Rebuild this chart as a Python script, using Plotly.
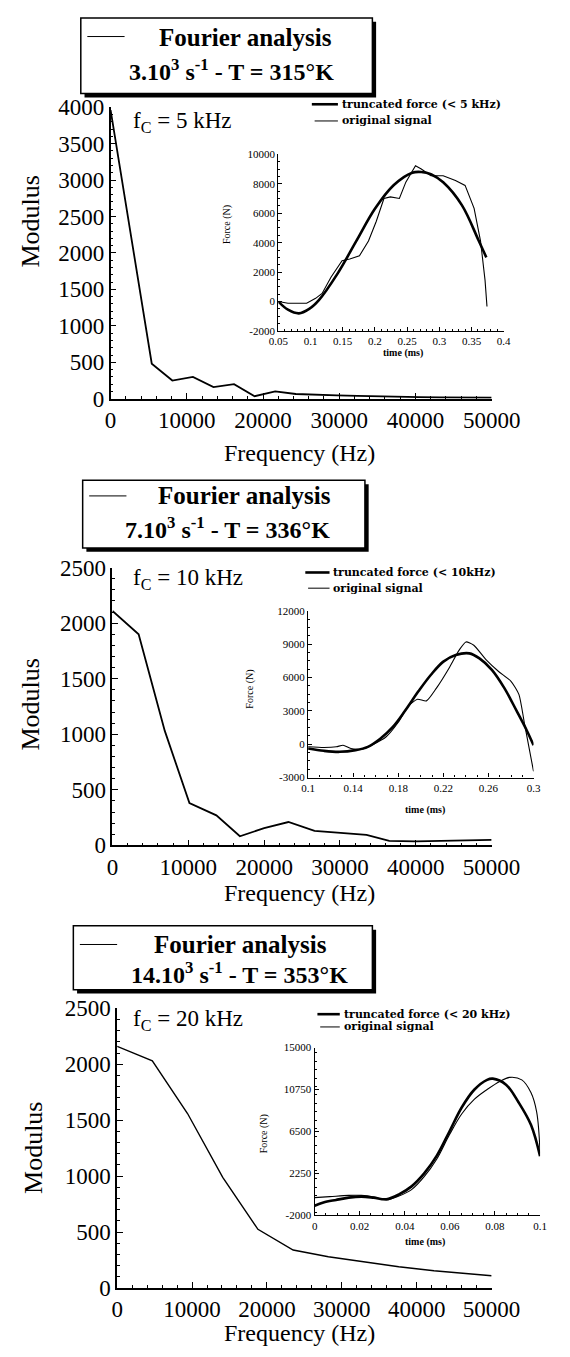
import plotly.graph_objects as go

W, H = 570, 1357

# ---------------- data ----------------
# Panel 1 (3.10^3 s-1, T=315 K)
freq1 = [0, 2700, 5400, 8100, 10800, 13500, 16200, 18900, 21600, 24300, 27000, 29700,
         32400, 35100, 37800, 40500, 43200, 45900, 48600, 50000]
mod1 = [3960, 2200, 480, 250, 300, 160, 200, 35, 100, 65, 50, 45, 40, 32, 27, 23, 20, 18, 16, 15]
t1_trunc = [0.05, 0.065, 0.082, 0.098, 0.113, 0.142, 0.171, 0.2, 0.229, 0.258, 0.272, 0.287,
            0.306, 0.335, 0.361, 0.373]
f1_trunc = [0, -550, -800, -500, 100, 1900, 4100, 6300, 7900, 8750, 8800, 8650,
            8100, 6550, 4150, 3000]
t1_orig = [0.05, 0.065, 0.094, 0.108, 0.118, 0.132, 0.149, 0.161, 0.176, 0.19, 0.202, 0.214,
           0.224, 0.238, 0.248, 0.263, 0.272, 0.287, 0.306, 0.325, 0.34, 0.354, 0.364,
           0.371, 0.374]
f1_orig = [0, -110, -110, 220, 550, 1670, 2780, 2890, 3110, 4110, 5440, 7000,
           7110, 7000, 8110, 9220, 9000, 8550, 8550, 8220, 7890, 6330, 4110,
           1440, -330]

# Panel 2 (7.10^3 s-1, T=336 K)
freq2 = [0, 3450, 6900, 10150, 13700, 16800, 20000, 23200, 26650, 30100, 33500, 36500,
         40000, 43300, 46900, 50000]
mod2 = [2110, 1900, 1030, 380, 270, 82, 155, 210, 130, 115, 95, 40, 35, 40, 45, 50]
t2_trunc = [0.1, 0.114, 0.128, 0.142, 0.153, 0.164, 0.175, 0.186, 0.198, 0.209, 0.22,
            0.231, 0.243, 0.252, 0.263, 0.274, 0.285, 0.294, 0.3]
f2_trunc = [-380, -590, -680, -530, -230, 500, 1535, 3010, 4780, 6250, 7430,
            8020, 8170, 7720, 6690, 5070, 3000, 1240, -90]
t2_orig = [0.1, 0.114, 0.125, 0.131, 0.138, 0.147, 0.158, 0.169, 0.18, 0.189, 0.197,
           0.205, 0.214, 0.225, 0.234, 0.24, 0.247, 0.258, 0.269, 0.28, 0.287,
           0.292, 0.3]
f2_orig = [-230, -290, -230, -90, -380, -470, 0, 650, 1980, 3450, 4040,
           3900, 5070, 6840, 8460, 9200, 8900, 7580, 6540, 5660, 4480,
           1830, -2440]

# Panel 3 (14.10^3 s-1, T=353 K)
freq3 = [0, 4700, 9400, 14100, 18800, 23500, 28200, 32900, 37600, 42300, 47000, 50000]
mod3 = [2160, 2030, 1560, 990, 525, 340, 280, 235, 190, 155, 125, 110]
t3_trunc = [0, 0.0039, 0.0095, 0.0151, 0.0207, 0.0262, 0.0318, 0.0374, 0.043, 0.0486,
            0.0542, 0.0598, 0.0653, 0.0709, 0.0765, 0.079, 0.0849, 0.0905, 0.096, 0.1]
f3_trunc = [-1020, -690, -430, -200, -100, -200, -360, 125, 940, 2250,
            4050, 6500, 8950, 10750, 11730, 11850, 11240, 9440, 7150, 4000]
t3_orig = [0, 0.0067, 0.0151, 0.0207, 0.0262, 0.0318, 0.0374, 0.043, 0.0486, 0.0542,
           0.0598, 0.0653, 0.0709, 0.0765, 0.0821, 0.0865, 0.0919, 0.096, 0.0985, 0.1]
f3_orig = [-200, -100, 30, 30, -130, -430, -40, 610, 1920, 3720,
           6170, 8300, 9770, 10750, 11570, 11980, 11730, 10420, 8460, 4300]

# tick labels
main_x_ticks = [0, 10000, 20000, 30000, 40000, 50000]
main_x_text = ["0", "10000", "20000", "30000", "40000", "50000"]
main1_y_ticks = [0, 500, 1000, 1500, 2000, 2500, 3000, 3500, 4000]
main23_y_ticks = [0, 500, 1000, 1500, 2000, 2500]
ins1_x_ticks = [0.05, 0.1, 0.15, 0.2, 0.25, 0.3, 0.35, 0.4]
ins1_x_text = ["0.05", "0.1", "0.15", "0.2", "0.25", "0.3", "0.35", "0.4"]
ins1_y_ticks = [-2000, 0, 2000, 4000, 6000, 8000, 10000]
ins2_x_ticks = [0.1, 0.14, 0.18, 0.22, 0.26, 0.3]
ins2_x_text = ["0.1", "0.14", "0.18", "0.22", "0.26", "0.3"]
ins2_y_ticks = [-3000, 0, 3000, 6000, 9000, 12000]
ins3_x_ticks = [0, 0.02, 0.04, 0.06, 0.08, 0.1]
ins3_x_text = ["0", "0.02", "0.04", "0.06", "0.08", "0.1"]
ins3_y_ticks = [-2000, 2250, 6500, 10750, 15000]

titles = ["3.10<sup>3</sup> s<sup>-1</sup> - T = 315°K",
          "7.10<sup>3</sup> s<sup>-1</sup> - T = 336°K",
          "14.10<sup>3</sup> s<sup>-1</sup> - T = 353°K"]
fc_labels = ["f<sub>C</sub> = 5 kHz", "f<sub>C</sub> = 10 kHz", "f<sub>C</sub> = 20 kHz"]
trunc_labels = ["truncated force (< 5 kHz)", "truncated force (< 10kHz)",
                "truncated force (< 20 kHz)"]

# ---------------- layout helpers ----------------
SERIF = "Liberation Serif"


def px(x):
    return x / W


def py(y):
    return 1 - y / H


fig = go.Figure()

fig.add_trace(go.Scatter(x=freq1, y=mod1, mode="lines", line=dict(color="black", width=1.8),
                         xaxis="x", yaxis="y", showlegend=False))
fig.add_trace(go.Scatter(x=t1_orig, y=f1_orig, mode="lines", line=dict(color="black", width=1.1),
                         xaxis="x2", yaxis="y2", showlegend=False))
fig.add_trace(go.Scatter(x=t1_trunc, y=f1_trunc, mode="lines", line=dict(color="black", width=2.6, shape="spline"),
                         xaxis="x2", yaxis="y2", showlegend=False))

fig.add_trace(go.Scatter(x=freq2, y=mod2, mode="lines", line=dict(color="black", width=1.8),
                         xaxis="x3", yaxis="y3", showlegend=False))
fig.add_trace(go.Scatter(x=t2_orig, y=f2_orig, mode="lines", line=dict(color="black", width=1.1, shape="spline", smoothing=0.6),
                         xaxis="x4", yaxis="y4", showlegend=False))
fig.add_trace(go.Scatter(x=t2_trunc, y=f2_trunc, mode="lines", line=dict(color="black", width=2.6, shape="spline"),
                         xaxis="x4", yaxis="y4", showlegend=False))

fig.add_trace(go.Scatter(x=freq3, y=mod3, mode="lines", line=dict(color="black", width=1.4),
                         xaxis="x5", yaxis="y5", showlegend=False))
fig.add_trace(go.Scatter(x=t3_orig, y=f3_orig, mode="lines", line=dict(color="black", width=1.1, shape="spline"),
                         xaxis="x6", yaxis="y6", showlegend=False))
fig.add_trace(go.Scatter(x=t3_trunc, y=f3_trunc, mode="lines", line=dict(color="black", width=2.6, shape="spline"),
                         xaxis="x6", yaxis="y6", showlegend=False))


def main_axes(xb, yb, ymax, yticks, ypx, xpx):
    xa = dict(domain=[px(xpx[0]), px(xpx[1])], range=[0, 50000], anchor=yb,
              showline=True, linecolor="black", linewidth=1.6, showgrid=False, zeroline=False,
              ticks="inside", ticklen=6, tickwidth=1.2, tickcolor="black",
              tickvals=main_x_ticks, ticktext=main_x_text,
              tickfont=dict(family=SERIF, size=23, color="black"),
              minor=dict(dtick=2000, ticks="inside", ticklen=3, tickcolor="black", tickwidth=1))
    ya = dict(domain=[py(ypx[1]), py(ypx[0])], range=[0, ymax], anchor=xb,
              showline=True, linecolor="black", linewidth=1.6, showgrid=False, zeroline=False,
              ticks="inside", ticklen=6, tickwidth=1.2, tickcolor="black",
              tickvals=yticks, ticktext=[str(v) for v in yticks],
              tickfont=dict(family=SERIF, size=23, color="black"),
              minor=dict(dtick=100, ticks="inside", ticklen=3, tickcolor="black", tickwidth=1))
    return xa, ya


def inset_axes(xb, yb, xr, yr, xt, xtt, yt, xpx, ypx, xminor, yminor):
    xa = dict(domain=[px(xpx[0]), px(xpx[1])], range=xr, anchor=yb,
              showline=True, linecolor="black", linewidth=1.3, showgrid=False, zeroline=False,
              ticks="inside", ticklen=4, tickwidth=1, tickcolor="black",
              tickvals=xt, ticktext=xtt,
              tickfont=dict(family=SERIF, size=11, color="black"),
              minor=dict(dtick=xminor, ticks="inside", ticklen=2, tickcolor="black", tickwidth=1))
    ya = dict(domain=[py(ypx[1]), py(ypx[0])], range=yr, anchor=xb,
              showline=True, linecolor="black", linewidth=1.3, showgrid=False, zeroline=False,
              ticks="inside", ticklen=4, tickwidth=1, tickcolor="black",
              tickvals=yt, ticktext=[str(v) for v in yt],
              tickfont=dict(family=SERIF, size=11, color="black"),
              minor=dict(dtick=yminor, ticks="inside", ticklen=2, tickcolor="black", tickwidth=1))
    return xa, ya


x1, y1 = main_axes("x", "y", 4000, main1_y_ticks, (97, 394), (108, 517))
x3, y3 = main_axes("x3", "y3", 2500, main23_y_ticks, (566, 849), (110, 517))
x5, y5 = main_axes("x5", "y5", 2500, main23_y_ticks, (1015, 1300), (115, 517))
x2, y2 = inset_axes("x2", "y2", [0.05, 0.4], [-2000, 10000], ins1_x_ticks, ins1_x_text, ins1_y_ticks,
                    (288, 530), (145, 325), 0.01, 500)
x4, y4 = inset_axes("x4", "y4", [0.1, 0.3], [-3000, 12000], ins2_x_ticks, ins2_x_text, ins2_y_ticks,
                    (320, 562), (610, 780), 0.01, 750)
x6, y6 = inset_axes("x6", "y6", [0, 0.1], [-2000, 15000], ins3_x_ticks, ins3_x_text, ins3_y_ticks,
                    (327, 569), (1055, 1226), 0.005, 850)

shapes = []
annotations = []


def ann(text, x, y, size, bold=False, angle=0, xanchor="center", family=SERIF):
    annotations.append(dict(text=("<b>%s</b>" % text) if bold else text,
                            x=px(x), y=py(y), xref="paper", yref="paper",
                            xanchor=xanchor, yanchor="middle", showarrow=False,
                            textangle=angle, font=dict(family=family, size=size, color="black")))


def hline(x0, x1_, y, width):
    shapes.append(dict(type="line", xref="paper", yref="paper", x0=px(x0), x1=px(x1_),
                       y0=py(y), y1=py(y), line=dict(color="black", width=width)))


def box(x0, y0, x1_, y1_):
    shapes.append(dict(type="rect", xref="paper", yref="paper", x0=px(x0 + 4), x1=px(x1_ + 4),
                       y0=py(y1_ + 4), y1=py(y0 + 4), fillcolor="black", line=dict(width=0)))
    shapes.append(dict(type="rect", xref="paper", yref="paper", x0=px(x0), x1=px(x1_),
                       y0=py(y1_), y1=py(y0), fillcolor="white", line=dict(color="black", width=1.5)))


panels = [
    dict(box=(76, 6, 389, 83), sample=(83, 123, 25), t1=(253, 26), t2=(238, 59),
         mod=(22, 213), fr=(311, 449), fc=(130, 112), force=(233, 217), time=(422, 347),
         leg=(324, 352, 94, 111, 354)),
    dict(box=(78, 477, 381, 546), sample=(85, 125, 493), t1=(252, 493), t2=(234, 526),
         mod=(22, 705), fr=(311, 898), fc=(130, 578), force=(258, 690), time=(445, 813),
         leg=(317, 343, 571, 587, 345)),
    dict(box=(68, 931, 389, 996), sample=(75, 115, 950), t1=(247, 950), t2=(246, 979),
         mod=(25, 1157), fr=(311, 1346), fc=(130, 1027), force=(273, 1143), time=(445, 1253),
         leg=(330, 354, 1021, 1034, 356)),
]

for i, p in enumerate(panels):
    box(*p["box"])
    hline(p["sample"][0], p["sample"][1], p["sample"][2], 1)
    ann("Fourier analysis", p["t1"][0], p["t1"][1], 25, bold=True)
    ann(titles[i], p["t2"][0], p["t2"][1], 24, bold=True)
    ann("Modulus", p["mod"][0], p["mod"][1], 26, angle=-90)
    ann("Frequency (Hz)", p["fr"][0], p["fr"][1], 24)
    ann(fc_labels[i], p["fc"][0], p["fc"][1], 23, xanchor="left")
    ann("Force (N)", p["force"][0], p["force"][1], 10, angle=-90)
    ann("time (ms)", p["time"][0], p["time"][1], 10, bold=True)
    lx0, lx1, ly1, ly2, tx = p["leg"]
    hline(lx0, lx1, ly1, 2.6)
    hline(lx0 + 3, lx1, ly2, 1)
    ann(trunc_labels[i], tx, ly1, 11, bold=True, xanchor="left", family="DejaVu Serif")
    ann("original signal", tx, ly2, 11, bold=True, xanchor="left", family="DejaVu Serif")

fig.update_layout(
    width=W, height=H, margin=dict(l=0, r=0, t=0, b=0),
    paper_bgcolor="white", plot_bgcolor="rgba(0,0,0,0)",
    xaxis=x1, yaxis=y1, xaxis2=x2, yaxis2=y2, xaxis3=x3, yaxis3=y3,
    xaxis4=x4, yaxis4=y4, xaxis5=x5, yaxis5=y5, xaxis6=x6, yaxis6=y6,
    shapes=shapes, annotations=annotations, showlegend=False,
)

fig.write_html("out.html")
